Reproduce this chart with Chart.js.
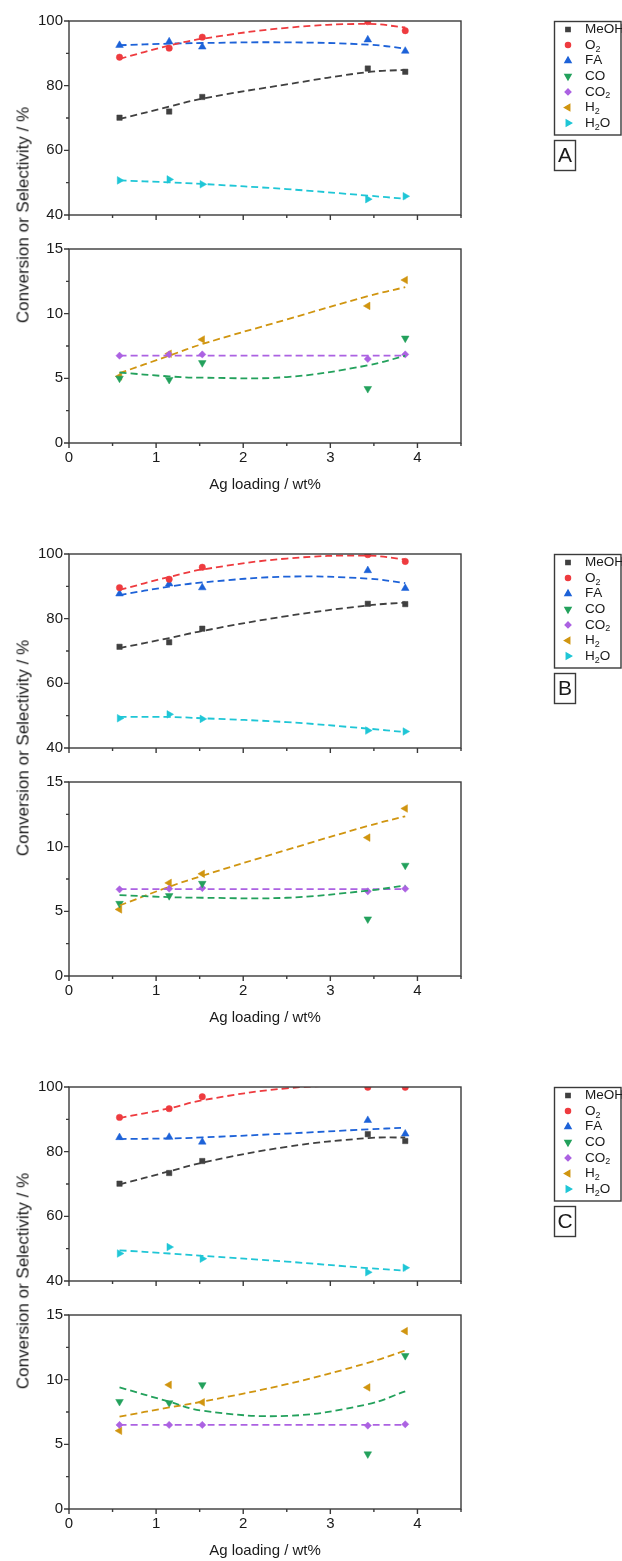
<!DOCTYPE html>
<html>
<head>
<meta charset="utf-8">
<script src="https://cdn.jsdelivr.net/npm/chart.js@4.4.1/dist/chart.umd.min.js"></script>
<style>
  html, body { margin: 0; padding: 0; background: #fff; }
  #page { position: relative; width: 622px; height: 1561px; overflow: hidden; }
  #page canvas { position: absolute; left: 0; }
  .ytitle {
    position: absolute; left: 23px;
    font: 17px 'Liberation Sans', Arial, sans-serif; color: #1a1a1a;
    white-space: nowrap; line-height: 1;
    transform: translate(-50%, -50%) rotate(-90deg);
  }
</style>
</head>
<body>
<div id="page"></div>
<script>
// Ag loading (wt%) of the five catalysts
const loading = [0.58, 1.15, 1.53, 3.43, 3.86];
// loadings where the fitted trend curves are sampled
const fitLoading = [0.58, 1.15, 1.53, 2.5, 3.43, 3.86];

const xTicks = [0, 1, 2, 3, 4];
const upperTicks = [40, 60, 80, 100];
const lowerTicks = [0, 5, 10, 15];

const seriesNames = ['MeOH', 'O₂', 'FA', 'CO', 'CO₂', 'H₂', 'H₂O'];

// --- A ---
const meohA = [70.1, 72.0, 76.5, 85.3, 84.3];
const o2A = [88.8, 91.6, 95.0, 99.8, 97.0];
const faA = [92.5, 93.6, 92.0, 94.2, 90.7];
const coA = [5.0, 4.9, 6.2, 4.2, 8.1];
const co2A = [6.75, 6.85, 6.85, 6.5, 6.85];
const h2A = [5.15, 6.9, 8.0, 10.6, 12.6];
const h2oA = [50.7, 51.0, 49.5, 44.9, 45.8];

const meohFitA = [69.7, 73.5, 76.0, 80.4, 84.2, 84.9];
const o2FitA = [88.3, 92.4, 94.5, 97.9, 99.1, 98.0];
const faFitA = [92.5, 93.0, 93.2, 93.4, 92.7, 91.5];
const coFitA = [5.45, 5.15, 5.05, 5.1, 6.0, 6.75];
const co2FitA = [6.75, 6.75, 6.75, 6.75, 6.75, 6.75];
const h2FitA = [5.4, 6.75, 7.65, 9.55, 11.35, 12.05];
const h2oFitA = [50.7, 50.1, 49.6, 48.0, 46.0, 45.0];

// --- B ---
const meohB = [71.3, 72.7, 76.9, 84.6, 84.5];
const o2B = [89.6, 92.2, 95.9, 99.8, 97.7];
const faB = [87.7, 90.8, 89.6, 94.9, 89.4];
const coB = [5.6, 6.2, 7.15, 4.4, 8.55];
const co2B = [6.7, 6.75, 6.8, 6.55, 6.75];
const h2B = [5.15, 7.2, 7.9, 10.7, 12.95];
const h2oB = [49.2, 50.4, 49.0, 45.4, 45.1];

const meohFitB = [70.9, 74.0, 76.2, 80.8, 84.1, 85.0];
const o2FitB = [88.9, 92.9, 95.2, 98.6, 99.5, 98.3];
const faFitB = [87.3, 89.9, 91.2, 93.0, 92.4, 91.0];
const coFitB = [6.25, 6.1, 6.05, 6.05, 6.6, 7.0];
const co2FitB = [6.72, 6.72, 6.72, 6.72, 6.72, 6.72];
const h2FitB = [5.45, 6.9, 7.75, 9.75, 11.6, 12.35];
const h2oFitB = [49.6, 49.6, 49.2, 48.0, 46.0, 44.9];

// --- C ---
const meohC = [70.1, 73.4, 77.1, 85.4, 83.3];
const o2C = [90.6, 93.3, 97.0, 99.9, 99.9];
const faC = [84.4, 84.5, 83.0, 89.7, 85.5];
const coC = [8.3, 8.2, 9.6, 4.25, 11.85];
const co2C = [6.5, 6.5, 6.5, 6.45, 6.55];
const h2C = [6.05, 9.6, 8.25, 9.4, 13.75];
const h2oC = [48.5, 50.5, 46.9, 42.7, 44.1];

const meohFitC = [69.9, 73.9, 76.6, 81.5, 84.2, 84.4];
const o2FitC = [90.4, 93.4, 95.9, 99.6, 100.6, 100.4];
const faFitC = [83.9, 84.1, 84.4, 85.6, 86.9, 87.4];
const coFitC = [9.4, 8.3, 7.6, 7.2, 8.1, 9.1];
const co2FitC = [6.5, 6.5, 6.5, 6.5, 6.5, 6.5];
const h2FitC = [7.15, 7.85, 8.3, 9.65, 11.3, 12.25];
const h2oFitC = [49.5, 48.5, 47.8, 46.0, 44.0, 43.2];

// marker look per series (same order as seriesNames)
const seriesColors = ['#404040', '#ee3b3f', '#1d62d8', '#23a15c', '#ac62e2', '#d09510', '#1fc6d6'];
const seriesStyles = ['rect', 'circle', 'triangle', 'triangle', 'rectRot', 'triangle', 'triangle'];
const seriesRotation = [0, 0, 0, 180, 0, -90, 90];
const seriesRadius = [3.8, 3.2, 4.4, 4.4, 3.6, 4.4, 4.4];

const family = "'Liberation Sans', Arial, sans-serif";
const ink = '#1a1a1a';
const frameColor = '#3a3a3a';
Chart.defaults.font.family = family;
Chart.defaults.color = ink;

const page = document.getElementById('page');

function addCanvas(top, height) {
  const c = document.createElement('canvas');
  c.width = 622;
  c.height = height;
  c.style.top = top + 'px';
  c.style.width = '622px';
  c.style.height = height + 'px';
  page.appendChild(c);
  return c;
}

// box around the plot plus outward major/minor ticks
const frame = {
  id: 'frame',
  afterDraw(chart) {
    const { ctx, chartArea: a, scales: { x, y } } = chart;
    ctx.save();
    ctx.strokeStyle = frameColor;
    ctx.lineWidth = 1.4;
    ctx.strokeRect(a.left, a.top, a.width, a.height);
    ctx.beginPath();
    x.ticks.forEach(t => {
      const px = x.getPixelForValue(t.value);
      const len = xTicks.includes(t.value) ? 5 : 3;
      ctx.moveTo(px, a.bottom);
      ctx.lineTo(px, a.bottom + len);
    });
    const major = chart.options.plugins.frame.major;
    y.ticks.forEach(t => {
      const py = y.getPixelForValue(t.value);
      const len = major.includes(t.value) ? 5 : 3;
      ctx.moveTo(a.left - len, py);
      ctx.lineTo(a.left, py);
    });
    ctx.stroke();
    ctx.restore();
  }
};

function drawLabel(ctx, text, x, y) {
  ctx.textBaseline = 'middle';
  ctx.textAlign = 'left';
  for (const ch of text) {
    if (ch === '₂') {
      ctx.font = '9px ' + family;
      ctx.fillText('2', x, y + 4);
      x += ctx.measureText('2').width;
    } else {
      ctx.font = '13.5px ' + family;
      ctx.fillText(ch, x, y);
      x += ctx.measureText(ch).width;
    }
  }
}

// legend box and panel letter to the right of the upper plot
const panelKey = {
  id: 'panelKey',
  afterDraw(chart, args, opts) {
    if (!opts.letter) return;
    const ctx = chart.ctx;
    ctx.save();
    ctx.strokeStyle = frameColor;
    ctx.lineWidth = 1.4;
    ctx.strokeRect(554.5, 21.5, 66.5, 113.5);
    seriesNames.forEach((name, i) => {
      const y = 29.5 + i * 15.6;
      ctx.fillStyle = seriesColors[i];
      ctx.strokeStyle = seriesColors[i];
      Chart.helpers.drawPoint(ctx, {
        pointStyle: seriesStyles[i],
        rotation: seriesRotation[i],
        radius: seriesRadius[i] * 0.8,
        borderWidth: 0.5
      }, 568, y);
      ctx.fillStyle = ink;
      drawLabel(ctx, name, 585, y);
    });
    ctx.strokeStyle = frameColor;
    ctx.strokeRect(554.5, 140.5, 21, 30);
    ctx.fillStyle = ink;
    ctx.font = '21px ' + family;
    ctx.textAlign = 'center';
    ctx.textBaseline = 'middle';
    ctx.fillText(opts.letter, 565, 156.5);
    ctx.restore();
  }
};

function buildDatasets(idx, values, fits) {
  const sets = [];
  idx.forEach(i => {
    sets.push({
      type: 'line',
      data: fitLoading.map((x, j) => ({ x, y: fits[i][j] })),
      borderColor: seriesColors[i],
      borderWidth: 1.8,
      borderDash: [7, 4],
      tension: 0.4,
      pointRadius: 0,
      fill: false
    });
  });
  idx.forEach(i => {
    sets.push({
      data: loading.map((x, j) => ({ x, y: values[i][j] })),
      pointStyle: seriesStyles[i],
      pointRotation: seriesRotation[i],
      pointRadius: seriesRadius[i],
      pointBackgroundColor: seriesColors[i],
      pointBorderColor: seriesColors[i],
      pointBorderWidth: 0.5
    });
  });
  return sets;
}

function xAxis(height, withLabels) {
  return {
    type: 'linear', min: 0, max: 4.5,
    afterFit: s => { s.height = height; },
    grid: { drawOnChartArea: false, drawTicks: true, tickLength: 5, color: 'rgba(0,0,0,0)' },
    border: { display: false },
    ticks: {
      display: withLabels, stepSize: 0.5, autoSkip: false, maxRotation: 0, padding: 1,
      font: { size: 15 }, color: ink,
      callback: v => xTicks.includes(v) ? v : ''
    },
    title: {
      display: withLabels, text: 'Ag loading / wt%', font: { size: 15 }, color: ink,
      padding: { top: 0, bottom: 6 }
    }
  };
}

function yAxis(min, max, step, major) {
  return {
    type: 'linear', min, max,
    afterFit: s => { s.width = 69; },
    grid: { drawOnChartArea: false, drawTicks: true, tickLength: 5, color: 'rgba(0,0,0,0)' },
    border: { display: false },
    ticks: {
      stepSize: step, autoSkip: false, padding: 1, font: { size: 15 }, color: ink,
      callback: v => major.includes(v) ? v : ''
    }
  };
}

function makeChart(canvas, datasets, x, y, padTop, major, letter) {
  return new Chart(canvas, {
    type: 'scatter',
    data: { datasets },
    options: {
      responsive: false,
      animation: false,
      devicePixelRatio: 1,
      layout: { padding: { top: padTop, right: 161, bottom: 0, left: 0 } },
      plugins: {
        legend: { display: false },
        tooltip: { enabled: false },
        frame: { major },
        panelKey: { letter }
      },
      scales: { x, y }
    },
    plugins: [frame, panelKey]
  });
}

function makePanel(top, letter, values, fits) {
  const upper = [0, 1, 2, 6];
  const lower = [3, 4, 5];
  makeChart(addCanvas(top, 240), buildDatasets(upper, values, fits),
    xAxis(25, false), yAxis(40, 100, 10, upperTicks), 21, upperTicks, letter);
  makeChart(addCanvas(top + 232, 268), buildDatasets(lower, values, fits),
    xAxis(57, true), yAxis(0, 15, 2.5, lowerTicks), 17, lowerTicks, null);

  const t = document.createElement('div');
  t.className = 'ytitle';
  t.style.top = (top + 215) + 'px';
  t.textContent = 'Conversion or Selectivity / %';
  page.appendChild(t);
}

makePanel(0, 'A',
  [meohA, o2A, faA, coA, co2A, h2A, h2oA],
  [meohFitA, o2FitA, faFitA, coFitA, co2FitA, h2FitA, h2oFitA]);
makePanel(533, 'B',
  [meohB, o2B, faB, coB, co2B, h2B, h2oB],
  [meohFitB, o2FitB, faFitB, coFitB, co2FitB, h2FitB, h2oFitB]);
makePanel(1066, 'C',
  [meohC, o2C, faC, coC, co2C, h2C, h2oC],
  [meohFitC, o2FitC, faFitC, coFitC, co2FitC, h2FitC, h2oFitC]);
</script>
</body>
</html>
